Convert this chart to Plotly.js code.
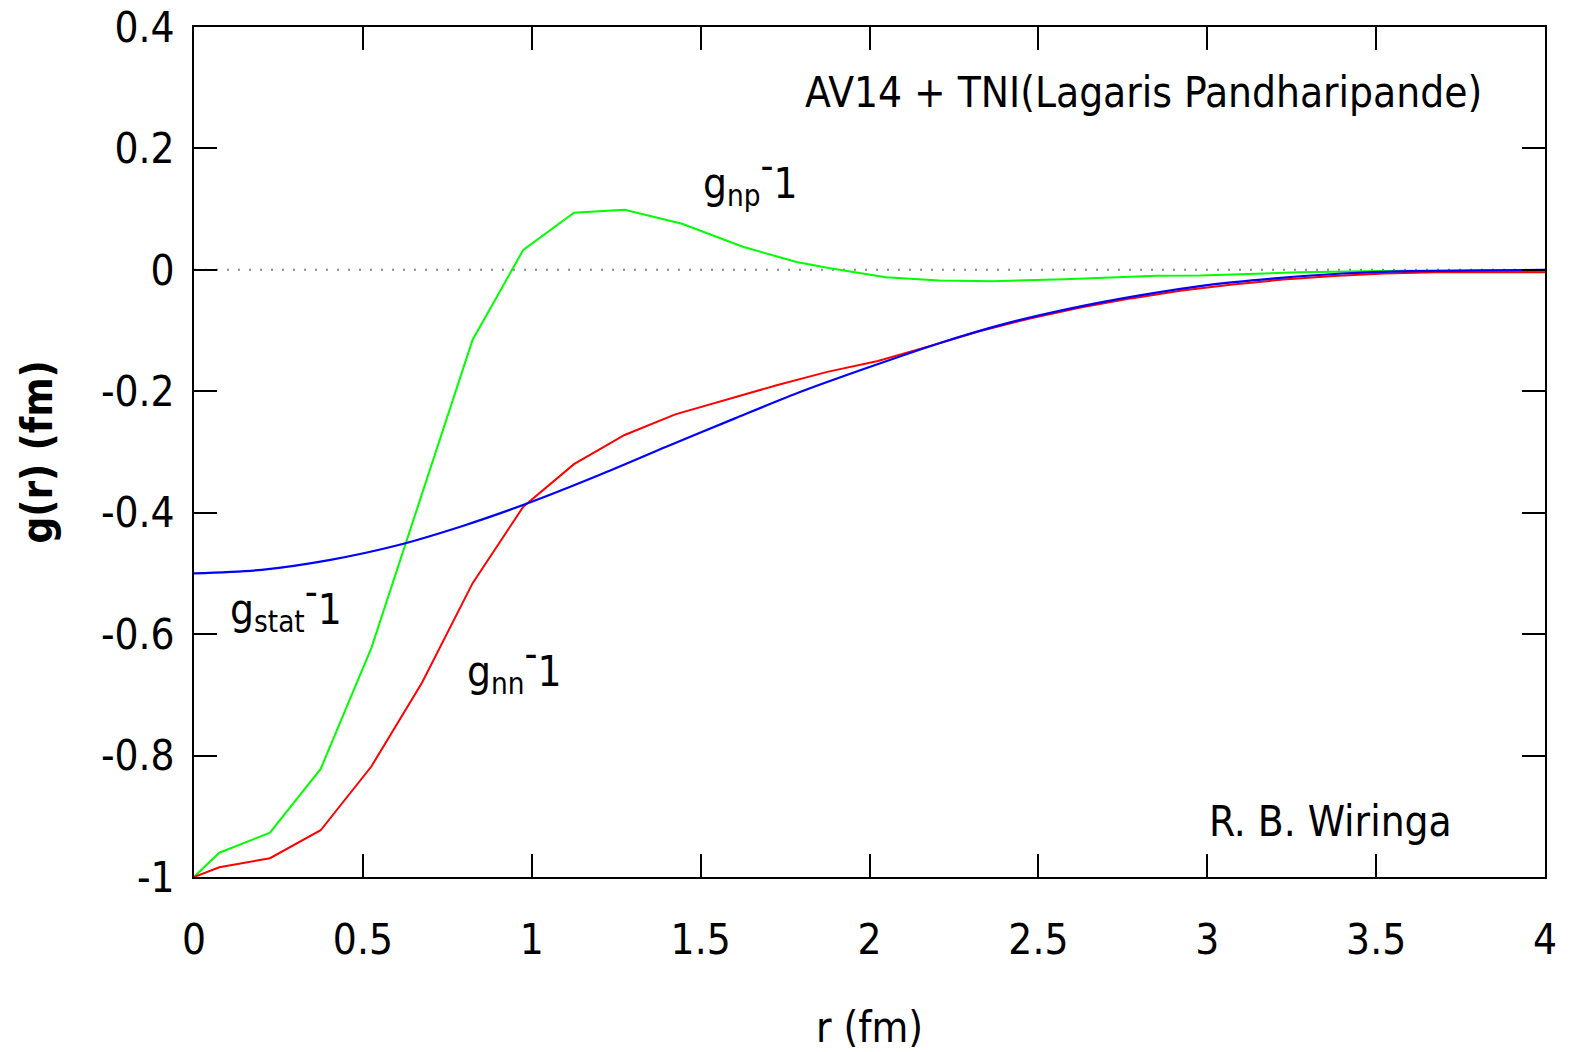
<!DOCTYPE html>
<html>
<head>
<meta charset="utf-8">
<script src="https://cdn.plot.ly/plotly-3.0.1.min.js"></script>
<style>html,body{margin:0;padding:0;background:#fff;}#chart{width:1579px;height:1052px;}</style>
</head>
<body>
<div id="chart"></div>
<script>
// g_np - 1 (green)
const npR = [0, 0.075, 0.225, 0.375, 0.525, 0.675, 0.825, 0.975, 1.125, 1.275, 1.445, 1.625, 1.784, 1.879, 2.048, 2.207, 2.365, 2.577, 2.851, 2.979, 3.275, 3.57, 4.0];
const npG = [-1.0, -0.960, -0.927, -0.822, -0.623, -0.370, -0.115, 0.033, 0.094, 0.099, 0.076, 0.038, 0.013, 0.003, -0.012, -0.0175, -0.0187, -0.0155, -0.0095, -0.0092, -0.004, -0.0015, -0.002];
// g_nn - 1 (red)
const nnR = [0, 0.075, 0.225, 0.375, 0.525, 0.675, 0.825, 0.975, 1.125, 1.275, 1.425, 1.575, 1.725, 1.875, 2.025, 2.175, 2.325, 2.475, 2.625, 2.775, 2.925, 3.075, 3.225, 3.375, 3.525, 3.675, 3.825, 4.0];
const nnG = [-1.0, -0.984, -0.969, -0.923, -0.818, -0.680, -0.516, -0.390, -0.320, -0.272, -0.238, -0.214, -0.190, -0.168, -0.150, -0.126, -0.101, -0.080, -0.062, -0.047, -0.034, -0.024, -0.016, -0.010, -0.006, -0.004, -0.004, -0.004];
// g_stat - 1 (blue)
const stR = [0, 0.2, 0.4, 0.6, 0.8, 1.0, 1.2, 1.4, 1.6, 1.8, 2.0, 2.2, 2.4, 2.6, 2.8, 3.0, 3.2, 3.4, 3.6, 3.8, 4.0];
const stG = [-0.500, -0.494, -0.478, -0.454, -0.421, -0.382, -0.338, -0.291, -0.245, -0.200, -0.160, -0.122, -0.089, -0.063, -0.042, -0.025, -0.014, -0.006, -0.002, -0.001, 0.000];

const xTickVals = [0, 0.5, 1, 1.5, 2, 2.5, 3, 3.5, 4];
const xTickText = ["0", "0.5", "1", "1.5", "2", "2.5", "3", "3.5", "4"];
const yTickVals = [-1, -0.8, -0.6, -0.4, -0.2, 0, 0.2, 0.4];
const yTickText = ["-1", "-0.8", "-0.6", "-0.4", "-0.2", "0", "0.2", "0.4"];

const FONT = "'DejaVu Sans Condensed', 'DejaVu Sans', sans-serif";
const FS = 42;
const SUPM = '<sup><span style="font-size:40px">-</span></sup>';

const traces = [
  {x: npR, y: npG, mode: 'lines', line: {color: '#00ff00', width: 2}, hoverinfo: 'skip'},
  {x: nnR, y: nnG, mode: 'lines', line: {color: '#ff0000', width: 2}, hoverinfo: 'skip'},
  {x: stR, y: stG, mode: 'lines', line: {color: '#0000ff', width: 2.2, shape: 'spline', smoothing: 0.8}, hoverinfo: 'skip'}
];

const axisCommon = {
  showline: true, linecolor: '#000', linewidth: 2, mirror: 'ticks',
  ticks: 'inside', ticklen: 23, tickwidth: 2, tickcolor: '#000',
  showgrid: false, zeroline: false,
  tickfont: {family: FONT, size: FS, color: '#000'}
};

const layout = {
  width: 1579, height: 1052,
  margin: {l: 194, r: 34, t: 27, b: 175, pad: 0},
  paper_bgcolor: '#fff', plot_bgcolor: '#fff',
  showlegend: false,
  font: {family: FONT, size: FS, color: '#000'},
  xaxis: Object.assign({}, axisCommon, {
    range: [0, 4], tickmode: 'array', tickvals: xTickVals, ticktext: xTickText,
    ticklabelstandoff: 25,
    title: {text: 'r (fm)', font: {family: FONT, size: FS, color: '#000'}, standoff: 52}
  }),
  yaxis: Object.assign({}, axisCommon, {
    range: [-1, 0.4], tickmode: 'array', tickvals: yTickVals, ticktext: yTickText,
    ticklabelstandoff: 9,
    title: {text: '<b>g(r) (fm)</b>', font: {family: FONT, size: FS, color: '#000'}, standoff: 35}
  }),
  shapes: [
    {type: 'line', xref: 'paper', x0: 0, x1: 1, yref: 'y', y0: 0, y1: 0,
     line: {color: '#888', width: 2, dash: '2px,9px'}, layer: 'below'}
  ],
  annotations: [
    {text: 'AV14 + TNI(Lagaris Pandharipande)', xref: 'x', yref: 'y', x: 1.803, y: 0.2916, xanchor: 'left', yanchor: 'middle', showarrow: false},
    {text: 'g<sub>np</sub>' + SUPM + '1', xref: 'x', yref: 'y', x: 1.501, y: 0.151, xanchor: 'left', yanchor: 'middle', showarrow: false},
    {text: 'g<sub>stat</sub>' + SUPM + '1', xref: 'x', yref: 'y', x: 0.1007, y: -0.550, xanchor: 'left', yanchor: 'middle', showarrow: false},
    {text: 'g<sub>nn</sub>' + SUPM + '1', xref: 'x', yref: 'y', x: 0.802, y: -0.652, xanchor: 'left', yanchor: 'middle', showarrow: false},
    {text: 'R. B. Wiringa', xref: 'x', yref: 'y', x: 2.999, y: -0.909, xanchor: 'left', yanchor: 'middle', showarrow: false}
  ]
};

Plotly.newPlot('chart', traces, layout, {staticPlot: true, displayModeBar: false});
</script>
</body>
</html>
